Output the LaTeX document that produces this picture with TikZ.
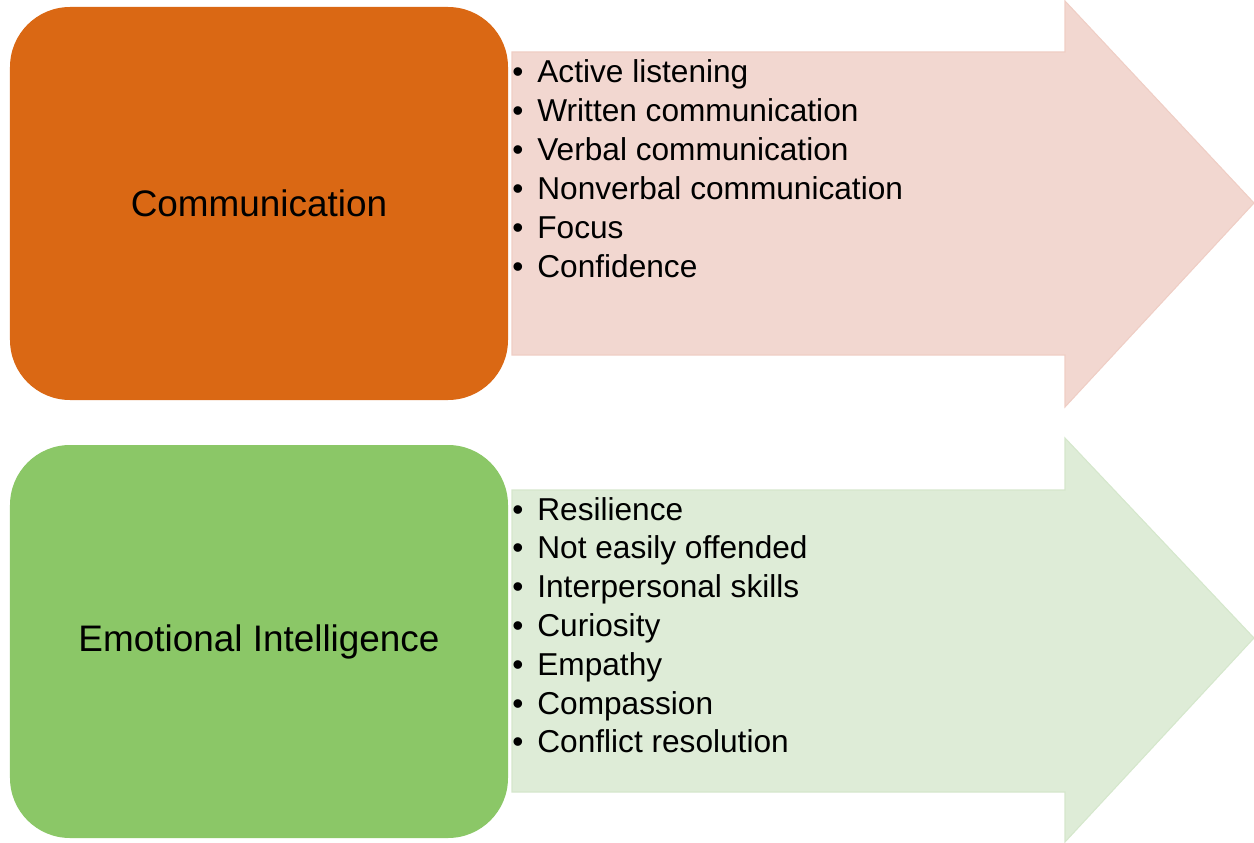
\documentclass[tikz,border=0pt]{standalone}
\usepackage{fontspec}
\setmainfont{Liberation Sans}
\definecolor{commorange}{RGB}{218,104,20}
\definecolor{emogreen}{RGB}{139,199,103}
\definecolor{commpink}{RGB}{242,215,208}
\definecolor{commpinkline}{RGB}{239,206,197}
\definecolor{emolight}{RGB}{222,236,215}
\definecolor{emolightline}{RGB}{213,231,204}
\begin{document}
\begin{tikzpicture}[
    skill/.style={rectangle, rounded corners=1.2cm, minimum width=9.96cm, minimum height=7.86cm, inner sep=0pt, font=\fontsize{21}{25}\selectfont},
    item/.style={anchor=base west, inner sep=0pt, font=\fontsize{18}{22}\selectfont}
]
    \useasboundingbox (0,0) rectangle (25.08,-16.86);

    % Arrows behind the lists
    \fill[commpink, draw=commpinkline, line width=0.6pt] (10.24,-1.04) -- (21.3,-1.04) -- (21.3,-0.02) -- (25.08,-4.06) -- (21.3,-8.14) -- (21.3,-7.1) -- (10.24,-7.1) -- cycle;
    \fill[emolight, draw=emolightline, line width=0.6pt] (10.24,-9.8) -- (21.3,-9.8) -- (21.3,-8.76) -- (25.08,-12.76) -- (21.3,-16.84) -- (21.3,-15.84) -- (10.24,-15.84) -- cycle;

    % Left boxes
    \node[skill, fill=commorange] (comm) at (5.18,-4.07) {Communication};
    \node[skill, fill=emogreen] (emo) at (5.18,-12.83) {Emotional Intelligence};

    % Lists
    \foreach \txt [count=\i] in {Active listening, Written communication, Verbal communication, Nonverbal communication, Focus, Confidence}
        \node[item] (commitem\i) at (10.24,{-1.66-0.776*(\i-1)}) {\makebox[0.5cm][l]{•}\txt};
    \foreach \txt [count=\i] in {Resilience, Not easily offended, Interpersonal skills, Curiosity, Empathy, Compassion, Conflict resolution}
        \node[item] (emoitem\i) at (10.24,{-10.4-0.776*(\i-1)}) {\makebox[0.5cm][l]{•}\txt};
\end{tikzpicture}
\end{document}
